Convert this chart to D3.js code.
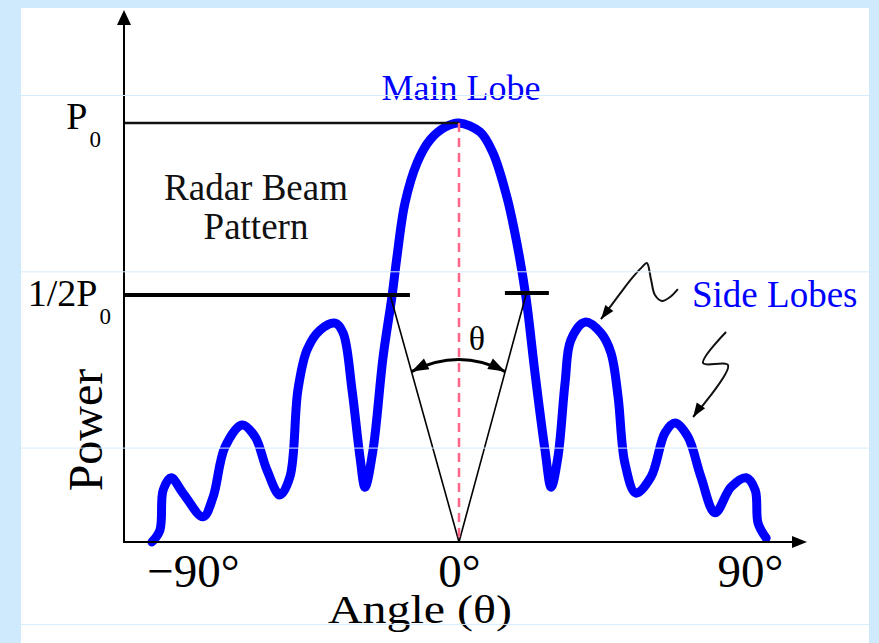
<!DOCTYPE html>
<html>
<head>
<meta charset="utf-8">
<script src="https://cdn.jsdelivr.net/npm/d3@7"></script>
<style>
  html, body { margin: 0; padding: 0; background: #cfeafc; }
  svg { display: block; }
  text { font-family: "Liberation Serif", "DejaVu Serif", serif; }
</style>
</head>
<body>
<div id="chart"></div>
<script>
// radar beam pattern
// angle in degrees, power as a fraction of P0
const angleDeg = [-103.9, -101.2, -100.1, -97.4, -93.4, -86.6, -83.2, -79.2, -73.4, -69.0,
	-65.0, -60.6, -57.2, -54.5, -51.4, -47.0, -41.9, -39.2, -36.2, -33.5,
	-31.8, -29.1, -25.7, -22.7, -21.0, -18.3, -14.2, -9.8, -4.7, 0,
	6.5, 10.5, 14.8, 17.9, 20.7, 23.5, 26.6, 28.5, 30.6, 32.8,
	34.6, 39.0, 43.9, 47.0, 49.2, 51.3, 54.7, 59.4, 63.7, 66.8,
	70.8, 74.8, 79.2, 84.1, 88.8, 91.6, 92.5, 95.0];
const powerRel = [0, 0.024, 0.105, 0.130, 0.099, 0.051, 0.091, 0.192, 0.237, 0.213,
	0.146, 0.095, 0.132, 0.308, 0.389, 0.429, 0.443, 0.423, 0.308, 0.172,
	0.111, 0.186, 0.374, 0.496, 0.610, 0.767, 0.884, 0.951, 0.988, 1.0,
	0.974, 0.913, 0.785, 0.651, 0.496, 0.342, 0.186, 0.111, 0.172, 0.322,
	0.409, 0.445, 0.423, 0.383, 0.294, 0.160, 0.099, 0.132, 0.221, 0.241,
	0.213, 0.132, 0.059, 0.111, 0.130, 0.105, 0.038, 0.008];

const xTicks = [-90, 0, 90];
const yTicks = [1, 0.5];
const yTickLabels = ["P", "1/2P"];

// beamwidth: half power crossings of the main lobe
const halfPower = 0.5;
const beamEdges = [-23.3, 20.7];
const leftBarEnd = -16.6;
const rightBar = [14.2, 27.8];

// squiggly pointers to the side lobes, [angle, power]
const pointerUpper = [[67.7, 0.517], [65.3, 0.496], [62.8, 0.488], [60.6, 0.500], [59.4, 0.544],
	[58.1, 0.593], [56.6, 0.581], [53.5, 0.549], [49.8, 0.504], [43.9, 0.451]];
const pointerLower = [[82.6, 0.425], [75.5, 0.362], [83.2, 0.358], [72.4, 0.253]];

const width = 879;
const height = 643;

const svg = d3.select("#chart")
	.append("svg")
		.attr("width", width)
		.attr("height", height);

// white slide panel
svg.append("rect")
	.attr("x", 21).attr("y", 8)
	.attr("width", 848).attr("height", height - 8)
	.attr("fill", "#ffffff");

const axisLeftX = 124;
const axisTopY = 10;
const axisRightX = 807;

// piecewise, the picture is not quite symmetric
const xScale = d3.scaleLinear()
	.domain([-90, 0, 90])
	.range([193, 459, 750]);

const yScale = d3.scaleLinear()
	.domain([0, 0.5, 1])
	.range([542, 295, 123]);

const x0 = xScale(0), y0 = yScale(0);

function arrowHead(tip, from, len, half) {
	const dx = tip[0] - from[0], dy = tip[1] - from[1];
	const d = Math.hypot(dx, dy);
	const ux = dx / d, uy = dy / d;
	const bx = tip[0] - ux * len, by = tip[1] - uy * len;
	return `M${tip[0]},${tip[1]}L${bx - uy * half},${by + ux * half}L${bx + uy * half},${by - ux * half}Z`;
}

// the beam
const data = angleDeg.map((a, i) => ({ a: a, p: powerRel[i] }));

const lineGenerator = d3.line()
	.x(d => xScale(d.a))
	.y(d => yScale(d.p))
	.curve(d3.curveCatmullRom.alpha(0.5));

svg.append("path")
	.datum(data)
	.attr("d", lineGenerator)
	.attr("fill", "none")
	.attr("stroke", "#0000ff")
	.attr("stroke-width", 9)
	.attr("stroke-linejoin", "round")
	.attr("stroke-linecap", "round");

// P0 level
svg.append("line")
	.attr("x1", axisLeftX).attr("x2", x0)
	.attr("y1", yScale(1)).attr("y2", yScale(1))
	.attr("stroke", "#111").attr("stroke-width", 2.5);

// half power bars
svg.append("line")
	.attr("x1", axisLeftX).attr("x2", xScale(leftBarEnd))
	.attr("y1", yScale(halfPower)).attr("y2", yScale(halfPower))
	.attr("stroke", "#000").attr("stroke-width", 4);
svg.append("line")
	.attr("x1", xScale(rightBar[0])).attr("x2", xScale(rightBar[1]))
	.attr("y1", yScale(halfPower) - 2).attr("y2", yScale(halfPower) - 2)
	.attr("stroke", "#000").attr("stroke-width", 4);

// beamwidth lines from the origin
beamEdges.forEach(a => {
	svg.append("line")
		.attr("x1", x0).attr("y1", y0)
		.attr("x2", xScale(a)).attr("y2", yScale(halfPower))
		.attr("stroke", "#000").attr("stroke-width", 1.6);
});

// double arrow for theta
const t = 0.69;
const pl = [x0 + (xScale(beamEdges[0]) - x0) * t, y0 + (yScale(halfPower) - y0) * t];
const pr = [x0 + (xScale(beamEdges[1]) - x0) * t, y0 + (yScale(halfPower) - y0) * t];
const ctrl = [x0, (pl[1] + pr[1]) / 2 - 24];
svg.append("path")
	.attr("d", `M${pl[0]},${pl[1]}Q${ctrl[0]},${ctrl[1]} ${pr[0]},${pr[1]}`)
	.attr("fill", "none")
	.attr("stroke", "#000").attr("stroke-width", 3);
[pl, pr].forEach(p => {
	svg.append("path")
		.attr("d", arrowHead(p, ctrl, 17, 6))
		.attr("fill", "#000");
});

svg.append("text")
	.attr("x", x0 + 18).attr("y", 350)
	.attr("text-anchor", "middle")
	.attr("font-size", 34)
	.text("θ");

// centre line
svg.append("line")
	.attr("x1", x0).attr("x2", x0)
	.attr("y1", yScale(1)).attr("y2", y0)
	.attr("stroke", "#ff6688")
	.attr("stroke-width", 2.5)
	.attr("stroke-dasharray", "9,6");

// axes with arrows
svg.append("line")
	.attr("x1", axisLeftX).attr("x2", axisLeftX)
	.attr("y1", y0).attr("y2", axisTopY + 10)
	.attr("stroke", "#000").attr("stroke-width", 2);
svg.append("path")
	.attr("d", arrowHead([axisLeftX, axisTopY], [axisLeftX, y0], 15, 7))
	.attr("fill", "#000");
svg.append("line")
	.attr("x1", axisLeftX - 1).attr("x2", axisRightX - 10)
	.attr("y1", y0).attr("y2", y0)
	.attr("stroke", "#000").attr("stroke-width", 2);
svg.append("path")
	.attr("d", arrowHead([axisRightX, y0], [axisLeftX, y0], 15, 6))
	.attr("fill", "#000");

// tick labels
const xAxisGenerator = d3.axisBottom(xScale)
	.tickValues(xTicks)
	.tickSize(0)
	.tickFormat(d => (d < 0 ? "\u2212" : "") + Math.abs(d) + "°");
const xAxis = svg.append("g")
	.attr("transform", `translate(0,${y0})`)
	.call(xAxisGenerator);
xAxis.select(".domain").remove();
xAxis.selectAll("text")
	.attr("y", 45).attr("dy", 0)
	.attr("font-family", "Liberation Serif")
	.attr("font-size", 47)
	.attr("fill", "#000");

const yAxisGenerator = d3.axisLeft(yScale)
	.tickValues(yTicks)
	.tickSize(0);
const yAxis = svg.append("g")
	.attr("transform", `translate(${axisLeftX},0)`)
	.call(yAxisGenerator);
yAxis.select(".domain").remove();
yAxis.selectAll("text")
	.attr("font-family", "Liberation Serif")
	.attr("font-size", 38)
	.attr("fill", "#000")
	.attr("dy", 0)
	.attr("x", (d, i) => i === 0 ? -23 : -13)
	.attr("y", (d, i) => i === 0 ? 5 : 10)
	.text(null)
	.each(function(d, i) {
		const s = d3.select(this);
		s.append("tspan").text(yTickLabels[i]);
		s.append("tspan")
			.attr("font-size", 23)
			.attr("dx", 2)
			.attr("dy", 18)
			.text("0");
	});

// axis titles
svg.append("text")
	.attr("transform", "translate(102,430) rotate(-90)")
	.attr("text-anchor", "middle")
	.attr("font-size", 48)
	.text("Power");

svg.append("text")
	.attr("x", 420).attr("y", 623)
	.attr("text-anchor", "middle")
	.attr("font-size", 41)
	.attr("textLength", 184)
	.attr("lengthAdjust", "spacingAndGlyphs")
	.text("Angle (θ)");

// annotations
svg.append("text")
	.attr("x", 461).attr("y", 100)
	.attr("text-anchor", "middle")
	.attr("font-size", 36)
	.attr("fill", "#0000ff")
	.text("Main Lobe");

const beamLabel = svg.append("text")
	.attr("text-anchor", "middle")
	.attr("font-size", 37)
	.attr("fill", "#111");
beamLabel.append("tspan").attr("x", 256).attr("y", 200).text("Radar Beam");
beamLabel.append("tspan").attr("x", 256).attr("y", 239).text("Pattern");

svg.append("text")
	.attr("x", 692).attr("y", 307)
	.attr("font-size", 37)
	.attr("fill", "#0000ff")
	.text("Side Lobes");

const pointerLine = d3.line()
	.x(d => xScale(d[0]))
	.y(d => yScale(d[1]))
	.curve(d3.curveCatmullRom.alpha(0.5));

[pointerUpper, pointerLower].forEach(pts => {
	svg.append("path")
		.attr("d", pointerLine(pts))
		.attr("fill", "none")
		.attr("stroke", "#111")
		.attr("stroke-width", 2);
	const n = pts.length;
	const tip = [xScale(pts[n - 1][0]), yScale(pts[n - 1][1])];
	const prev = [xScale(pts[n - 2][0]), yScale(pts[n - 2][1])];
	svg.append("path")
		.attr("d", arrowHead(tip, prev, 14, 5))
		.attr("fill", "#000");
});

// faint slide guides
d3.range(4).forEach(i => {
	svg.append("line")
		.attr("x1", 21).attr("x2", 869)
		.attr("y1", 95.5 + i * 176.3).attr("y2", 95.5 + i * 176.3)
		.attr("stroke", "#d4ecfc")
		.attr("stroke-width", 1);
});
</script>
</body>
</html>
